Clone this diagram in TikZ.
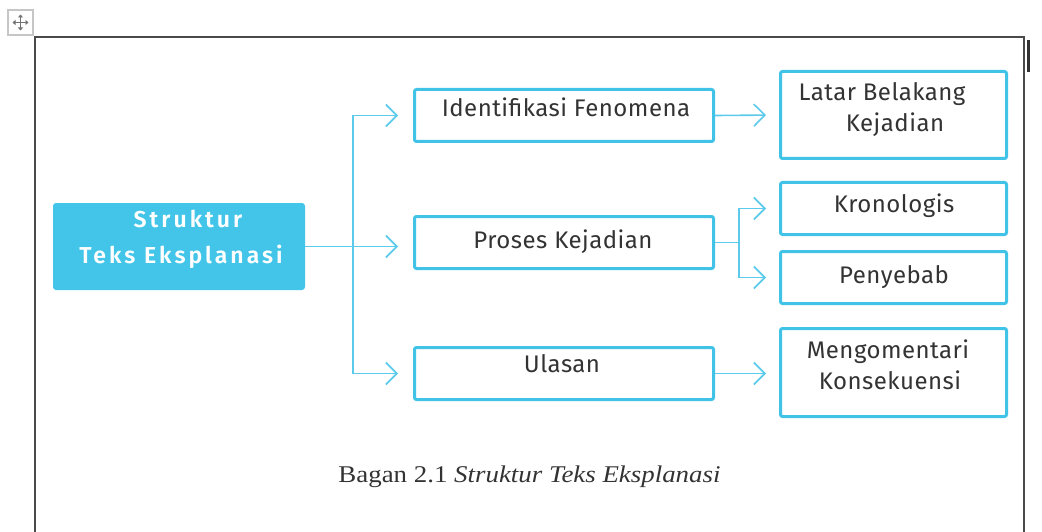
\documentclass[tikz,border=0pt]{standalone}
\usepackage{fontspec}
\setmainfont{Liberation Serif}
\newfontfamily\boxfont[LetterSpace=2]{Fira Sans}
\newfontfamily\headfont[LetterSpace=13]{Fira Sans SemiBold}
\usetikzlibrary{arrows.meta}

\definecolor{frameblue}{HTML}{41C3E7}
\definecolor{fillblue}{HTML}{42C5E8}
\definecolor{linkblue}{HTML}{5CCAEA}
\definecolor{inkgray}{HTML}{333333}
\definecolor{pagegray}{HTML}{4A4A4A}

\tikzset{
  x=1pt, y=-1pt,
  boxline/.style={draw=frameblue, line width=3pt, rounded corners=2pt,
    inner sep=0pt, fill=white},
  midbox/.style={boxline, minimum width=299pt, minimum height=52pt},
  leafbox/.style={boxline, minimum width=226pt, minimum height=52pt},
  tallbox/.style={boxline, minimum width=226pt, minimum height=87pt},
  headbox/.style={fill=fillblue, rounded corners=3pt, minimum width=252pt,
    minimum height=87pt, inner sep=0pt},
  boxtext/.style={font=\boxfont\fontsize{24}{28}\selectfont, text=inkgray,
    anchor=base, inner sep=0pt},
  headtext/.style={font=\headfont\fontsize{23}{27}\selectfont, text=white,
    anchor=base, inner sep=0pt},
  link/.style={draw=linkblue, line width=1.6pt},
  linkarrow/.style={link, -{Straight Barb[length=11pt,width=22pt,line width=1.6pt]}},
}

\begin{document}
\begin{tikzpicture}
  \useasboundingbox (0,0) rectangle (1042,532);

  % page frame and cursor mark
  \draw[pagegray, line width=2pt] (35,532) -- (35,37) -- (1024,37) -- (1024,532);
  \draw[inkgray, line width=2.5pt] (1028.5,40) -- (1028.5,72);

  % table move handle
  \draw[gray!45, line width=1.2pt, fill=white] (8,10) rectangle (33,35);
  \begin{scope}[gray!90!black, line width=1pt, -{Triangle[length=3pt,width=5pt]}]
    \draw (20.5,22.5) -- (12.5,22.5);
    \draw (20.5,22.5) -- (28.5,22.5);
    \draw (20.5,22.5) -- (20.5,14.5);
    \draw (20.5,22.5) -- (20.5,30.5);
  \end{scope}

  % boxes
  \node[headbox] (head) at (179,246.5) {};
  \node[midbox] (ident) at (564,115.5) {};
  \node[midbox] (proses) at (564,242.5) {};
  \node[midbox] (ulasan) at (564,373.5) {};
  \node[tallbox] (latar) at (893.5,115) {};
  \node[leafbox] (kronologis) at (893.5,208.5) {};
  \node[leafbox] (penyebab) at (893.5,277.5) {};
  \node[tallbox, minimum height=88pt] (komentar) at (893.5,372.5) {};

  % texts
  \node[headtext] (headA) at (188,227) {Struktur};
  \node[headtext] (headB) at (181,263) {Teks Eksplanasi};
  \node[boxtext] (identT) at (566,117) {Identifikasi Fenomena};
  \node[boxtext] (prosesT) at (563,248) {Proses Kejadian};
  \node[boxtext] (ulasanT) at (562,372) {Ulasan};
  \node[boxtext] (latarA) at (882,101) {Latar Belakang};
  \node[boxtext] (latarB) at (895,132) {Kejadian};
  \node[boxtext] (kronT) at (894,212) {Kronologis};
  \node[boxtext] (penyT) at (894,283) {Penyebab};
  \node[boxtext] (komA) at (888,358) {Mengomentari};
  \node[boxtext] (komB) at (890,389) {Konsekuensi};

  % connectors
  \coordinate (fork) at (353,246.5);
  \coordinate (fork2) at (739,242.5);
  \draw[linkarrow, shorten >=15pt] (head.east) -- (head.east -| proses.west);
  \draw[linkarrow, shorten >=15pt] (fork) |- (ident.west);
  \draw[linkarrow, shorten >=15pt] (fork) |- (ulasan.west);
  \draw[linkarrow, shorten >=13pt] (ident.east) -- (latar.west);
  \draw[link] (proses.east) -- (fork2);
  \draw[linkarrow, shorten >=13pt] (fork2) |- (kronologis.west);
  \draw[linkarrow, shorten >=13pt] (fork2) |- (penyebab.west);
  \draw[linkarrow, shorten >=13pt] (ulasan.east) -- (ulasan.east -| komentar.west);

  % caption
  \node[anchor=base, inner sep=0pt, text=inkgray, xscale=1.12,
    font=\fontsize{24}{28}\selectfont]
    (caption) at (529.5,482) {Bagan 2.1 \textit{Struktur Teks Eksplanasi}};
\end{tikzpicture}
\end{document}
